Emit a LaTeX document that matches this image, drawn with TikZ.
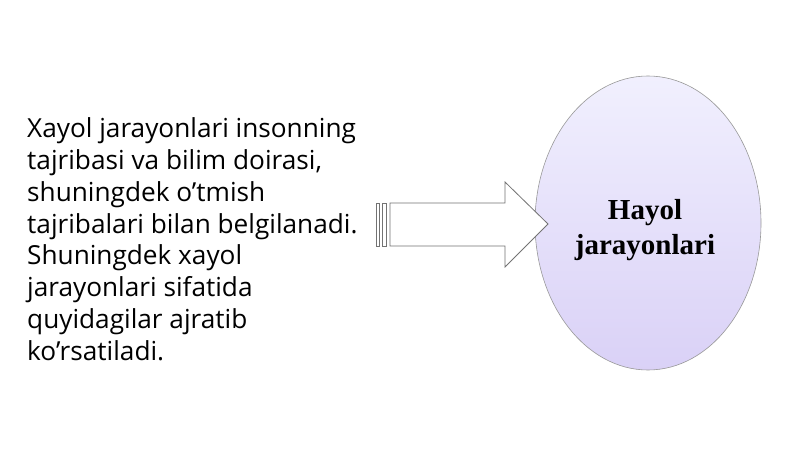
\documentclass[tikz,border=0pt]{standalone}
\usepackage{fontspec}
\setmainfont{Open Sans}
\newfontfamily\titlefont{Liberation Serif}
\begin{document}
\begin{tikzpicture}[x=1pt,y=-1pt,
  bodytext/.style={anchor=north west,inner sep=0pt,align=left,
    font=\fontsize{26.2}{31.8}\selectfont,text=black},
  ovaltext/.style={align=center,inner sep=0pt,
    font=\titlefont\bfseries\fontsize{29}{35}\selectfont,text=black},
  blockarrow/.style={draw=black!55,line width=0.8pt,fill=white,line join=miter}]
\useasboundingbox (0,0) rectangle (800,449);
\fill[white] (0,0) rectangle (800,449);
% explanatory text
\node[bodytext] (txt) at (27,117.5) {Xayol jarayonlari insonning\\tajribasi va bilim doirasi,\\shuningdek o’tmish\\tajribalari bilan belgilanadi.\\Shuningdek xayol\\jarayonlari sifatida\\quyidagilar ajratib\\ko’rsatiladi.};
% ellipse
\shade[top color=purple!10!blue!6!white,bottom color=purple!25!blue!18!white,draw=black!40,line width=0.6pt]
  (648,223) ellipse [x radius=113, y radius=147];
\coordinate (oval) at (648,223);
\node[ovaltext] (title) at (645,230) {Hayol\\jarayonlari};
% striped block arrow
\draw[blockarrow] (376,203) rectangle (379,246);
\draw[blockarrow] (382,203) rectangle (386,246);
\draw[blockarrow] (390,203) -- (505,203) -- (505,182) -- (548,224) -- (505,267) -- (505,246) -- (390,246) -- cycle;
\end{tikzpicture}
\end{document}
